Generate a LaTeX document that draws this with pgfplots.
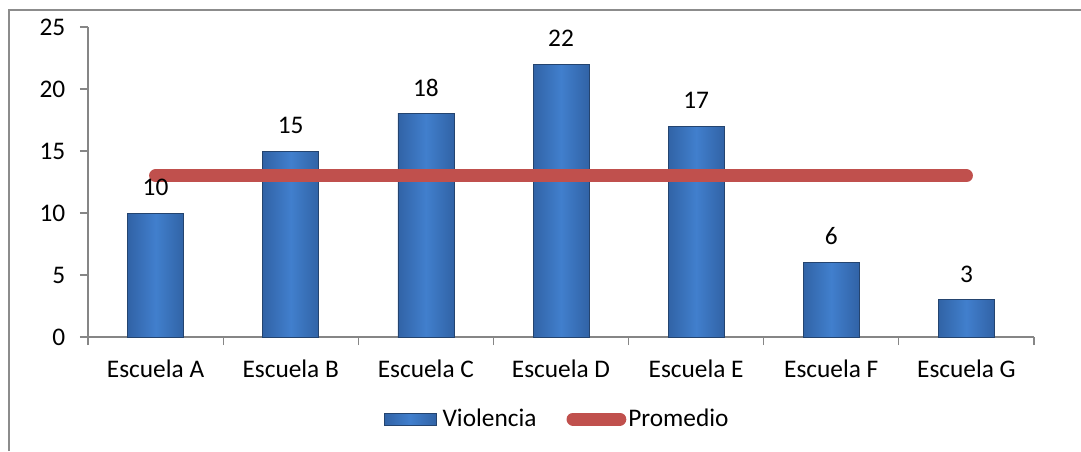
\documentclass[border=0pt]{standalone}
\usepackage{fontspec}
\setmainfont{Carlito}
\usepackage{pgfplots}
\pgfplotsset{compat=1.18}
\definecolor{barmid}{HTML}{417FCD}
\definecolor{baredge}{HTML}{3163A6}
\definecolor{barline}{HTML}{24446F}
\definecolor{avgred}{HTML}{C0504D}
\definecolor{axgray}{HTML}{868686}
\definecolor{framegray}{HTML}{8C8C8C}

\pgfplotsset{
  schoolbar/.style={ybar, bar width=42pt, bar shift=0pt, draw=barline, line width=0.5pt,
    left color=baredge, right color=baredge, middle color=barmid},
}

\begin{document}
\begin{tikzpicture}
% page = 1081 x 451 px, 1 px = 0.75pt
\path[use as bounding box] (0,0) rectangle (810.75pt,338.25pt);
\draw[framegray, line width=0.8pt] (6.75pt,0) -- (6.75pt,330.75pt) -- (810.75pt,330.75pt);
\begin{axis}[
  at={(66pt,85.5pt)}, anchor=south west,
  scale only axis, width=709.5pt, height=232.5pt,
  xmin=0.5, xmax=7.5, ymin=0, ymax=25,
  axis x line=bottom, axis y line=left,
  axis line style={-, axgray, line width=0.8pt},
  font=\fontsize{19}{22}\selectfont,
  /pgf/number format/assume math mode=true,
  tick align=outside,
  major tick length=6pt, minor tick length=6pt,
  tick style={axgray, line width=0.8pt},
  xtick={1,...,7},
  xticklabels={Escuela A,Escuela B,Escuela C,Escuela D,Escuela E,Escuela F,Escuela G},
  minor xtick={0.5,1.5,...,7.5},
  major x tick style={draw=none},
  x tick label style={yshift=-7.5pt},
  ytick={0,5,...,25},
  y tick label style={xshift=-7.5pt},
  legend style={at={(0.496,-0.2645)}, anchor=center, draw=none, fill=none,
    legend columns=2, font=\fontsize{19}{22}\selectfont,
    nodes={inner sep=1.5pt},
    /tikz/every even column/.append style={column sep=21pt}},
]
\addplot[schoolbar,
  legend image code/.code={
    \draw[barline, line width=0.5pt, left color=baredge, right color=baredge, middle color=barmid]
      (0pt,-4.5pt) rectangle (39pt,4.5pt);
    \path (42pt,0pt);}]
  coordinates {(1,10)};
\addlegendentry{Violencia}
\addplot[schoolbar, forget plot] coordinates {(2,15)};
\addplot[schoolbar, forget plot] coordinates {(3,18)};
\addplot[schoolbar, forget plot] coordinates {(4,22)};
\addplot[schoolbar, forget plot] coordinates {(5,17)};
\addplot[schoolbar, forget plot] coordinates {(6,6)};
\addplot[schoolbar, forget plot] coordinates {(7,3)};
\addplot[avgred, line width=9.75pt, line cap=round, mark=none,
  legend image code/.code={
    \draw[avgred, line width=9.75pt, line cap=round] (4.9pt,0pt) -- (40pt,0pt);}]
  coordinates {(1,13)(2,13)(3,13)(4,13)(5,13)(6,13)(7,13)};
\addlegendentry{Promedio}
% value labels on top of everything
\addplot[ybar, bar width=42pt, bar shift=0pt, draw=none, fill=none, forget plot,
  nodes near coords,
  nodes near coords style={font=\fontsize{19}{22}\selectfont, anchor=south,
    inner sep=0pt, yshift=13pt, text=black}]
  coordinates {(1,10)(2,15)(3,18)(4,22)(5,17)(6,6)(7,3)};
\end{axis}
\end{tikzpicture}
\end{document}
